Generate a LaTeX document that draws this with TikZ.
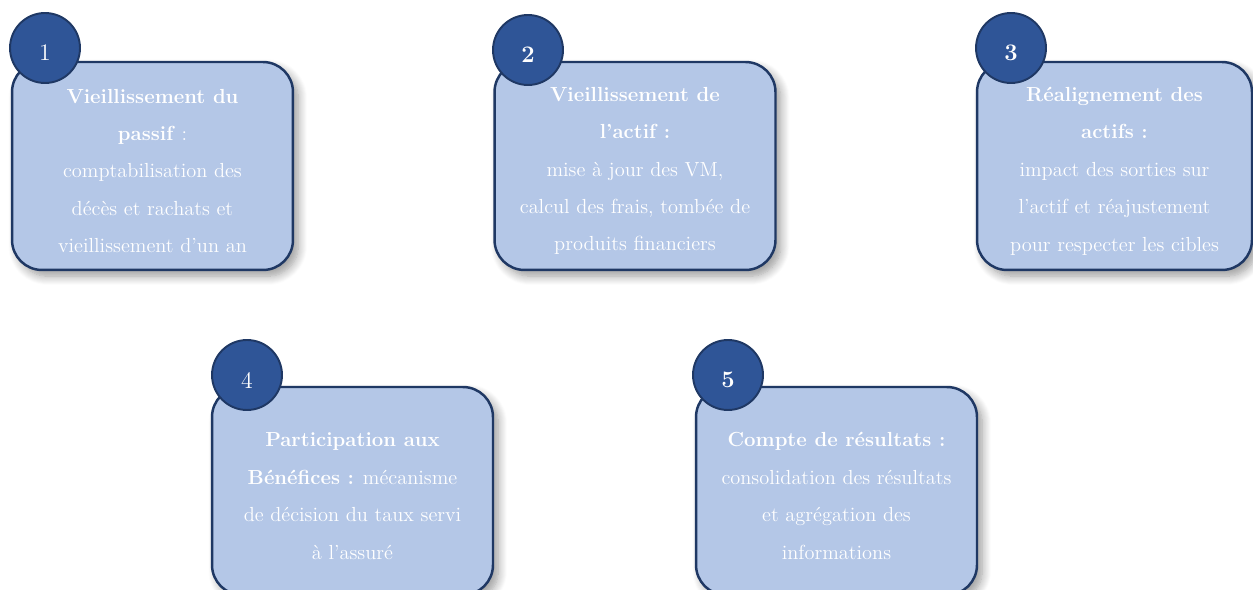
\documentclass[tikz,border=0pt]{standalone}
\usetikzlibrary{shadows.blur}
\definecolor{boxfill}{HTML}{B4C7E7}
\definecolor{navy}{HTML}{1F3864}
\definecolor{circfill}{HTML}{2F5597}
\begin{document}
\begin{tikzpicture}[x=0.02cm,y=-0.02cm,
  stepbox/.style={draw=navy, line width=1.4pt, fill=boxfill, rounded corners=0.6cm,
    minimum width=5.62cm, minimum height=4.16cm, inner sep=0pt,
    blur shadow={shadow xshift=3pt, shadow yshift=-3.5pt, shadow blur radius=5pt, shadow blur steps=10, shadow opacity=40}},
  numcirc/.style={circle, draw=navy, line width=1.1pt, fill=circfill, minimum size=1.4cm,
    inner sep=0pt},
  numtext/.style={text=white, inner sep=0pt, font=\fontsize{13.5}{16}\selectfont},
  boxtext/.style={text=white, align=center, inner sep=0pt, font=\fontsize{11.6}{21.3}\selectfont}]
\useasboundingbox (0,0) rectangle (1253,590);
% boxes
\node[stepbox] (b1) at (152.5,166) {};
\node[stepbox] (b2) at (635,166) {};
\node[stepbox, minimum width=5.5cm] (b3) at (1114.5,166) {};
\node[stepbox] (b4) at (352.5,491) {};
\node[stepbox] (b5) at (836.5,491) {};
% circles
\node[numcirc] (c1) at (45,48) {};
\node[numcirc] (c2) at (528,50) {};
\node[numcirc] (c3) at (1011,48) {};
\node[numcirc] (c4) at (247,375) {};
\node[numcirc] (c5) at (728,375) {};
\node[numtext] (n1) at (45,53) {1};
\node[numtext] (n2) at (528,55) {\textbf{2}};
\node[numtext] (n3) at (1011,53) {\textbf{3}};
\node[numtext] (n4) at (247,380) {4};
\node[numtext] (n5) at (728,380) {\textbf{5}};
% texts
\node[boxtext] (t1) at (152.5,171) {\textbf{Vieillissement du}\\\textbf{passif} :\\comptabilisation des\\décès et rachats et\\vieillissement d'un an};
\node[boxtext] (t2) at (635,171) {\textbf{Vieillissement de}\\\textbf{l'actif :}\\mise à jour des VM,\\calcul des frais, tombée de\\produits financiers};
\node[boxtext] (t3) at (1114.5,171) {\textbf{Réalignement des}\\\textbf{actifs :}\\impact des sorties sur\\l'actif et réajustement\\pour respecter les cibles};
\node[boxtext] (t4) at (352.5,496) {\textbf{Participation aux}\\\textbf{Bénéfices :} mécanisme\\de décision du taux servi\\à l'assuré};
\node[boxtext] (t5) at (836.5,496) {\textbf{Compte de résultats :}\\consolidation des résultats\\et agrégation des\\informations};
\end{tikzpicture}
\end{document}
